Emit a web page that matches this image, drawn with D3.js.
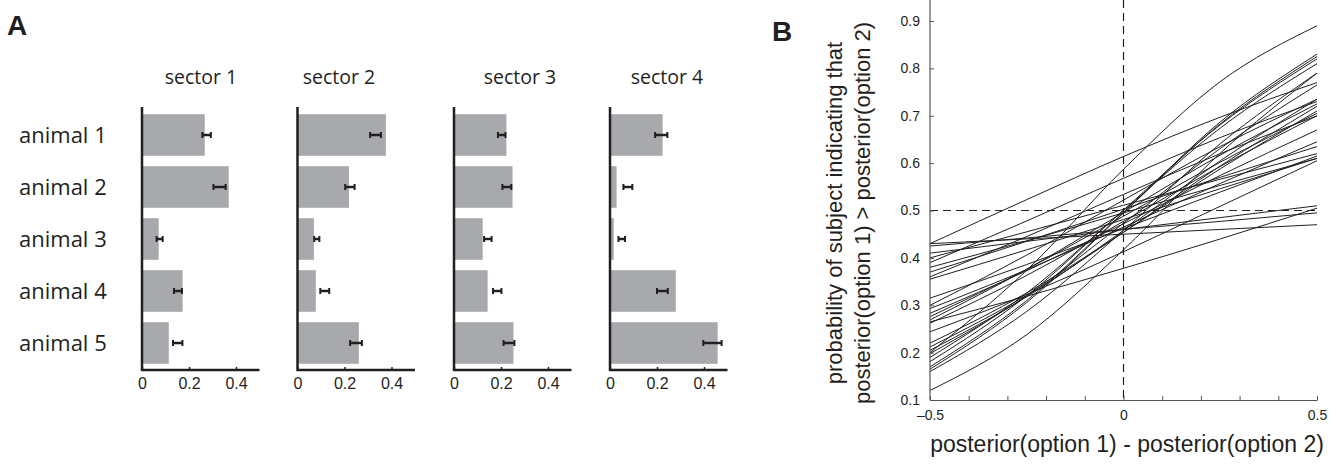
<!DOCTYPE html>
<html>
<head>
<meta charset="utf-8">
<script src="https://cdn.jsdelivr.net/npm/d3@7"></script>
<style>
  body { margin: 0; background: #fff; }
  text { fill: #231f20; }
</style>
</head>
<body>
<script>
var width = 1341;
var height = 468;

// ---- panel A data ----
var animals = ["animal 1", "animal 2", "animal 3", "animal 4", "animal 5"];
var sectors = ["sector 1", "sector 2", "sector 3", "sector 4"];
var barValues = [
  [0.267, 0.369, 0.071, 0.173, 0.114],
  [0.376, 0.219, 0.070, 0.078, 0.261],
  [0.223, 0.249, 0.122, 0.143, 0.253],
  [0.224, 0.028, 0.016, 0.280, 0.458]
];
var errCenter = [
  [0.275, 0.330, 0.075, 0.153, 0.152],
  [0.332, 0.223, 0.082, 0.116, 0.249],
  [0.203, 0.225, 0.144, 0.184, 0.234],
  [0.218, 0.076, 0.050, 0.223, 0.436]
];
var errHalf = [
  [0.018, 0.026, 0.013, 0.017, 0.020],
  [0.023, 0.020, 0.011, 0.019, 0.025],
  [0.016, 0.019, 0.016, 0.018, 0.023],
  [0.026, 0.019, 0.014, 0.023, 0.039]
];
var barTicks = [0, 0.2, 0.4];

// ---- panel B data: each subject's fitted curve, read at x = -0.5, -0.25, 0, 0.25, 0.5 ----
var curveX = [-0.5, -0.25, 0, 0.25, 0.5];
var curves = [
  [0.200, 0.374, 0.587, 0.772, 0.890],
  [0.120, 0.238, 0.417, 0.621, 0.790],
  [0.430, 0.523, 0.614, 0.697, 0.770],
  [0.165, 0.306, 0.495, 0.687, 0.830],
  [0.170, 0.310, 0.496, 0.683, 0.825],
  [0.181, 0.320, 0.501, 0.681, 0.820],
  [0.190, 0.326, 0.500, 0.674, 0.810],
  [0.160, 0.287, 0.458, 0.641, 0.790],
  [0.205, 0.318, 0.458, 0.605, 0.735],
  [0.300, 0.406, 0.522, 0.635, 0.735],
  [0.212, 0.321, 0.454, 0.594, 0.720],
  [0.220, 0.326, 0.454, 0.588, 0.710],
  [0.276, 0.376, 0.488, 0.602, 0.705],
  [0.262, 0.363, 0.477, 0.593, 0.700],
  [0.360, 0.445, 0.534, 0.620, 0.700],
  [0.283, 0.373, 0.472, 0.574, 0.670],
  [0.293, 0.375, 0.465, 0.557, 0.645],
  [0.370, 0.435, 0.503, 0.570, 0.635],
  [0.400, 0.455, 0.511, 0.566, 0.620],
  [0.315, 0.386, 0.462, 0.539, 0.615],
  [0.380, 0.436, 0.495, 0.553, 0.610],
  [0.244, 0.323, 0.413, 0.509, 0.605],
  [0.265, 0.319, 0.378, 0.440, 0.505],
  [0.410, 0.435, 0.460, 0.485, 0.510],
  [0.425, 0.442, 0.460, 0.477, 0.495],
  [0.430, 0.440, 0.450, 0.460, 0.470],
  [0.355, 0.417, 0.481, 0.546, 0.610],
  [0.198, 0.320, 0.473, 0.631, 0.765],
  [0.269, 0.376, 0.496, 0.617, 0.725],
  [0.390, 0.478, 0.568, 0.654, 0.730]
];
var xTicksB = [-0.5, -0.4, -0.3, -0.2, -0.1, 0, 0.1, 0.2, 0.3, 0.4, 0.5];
var xLabelsB = [-0.5, 0, 0.5];
var yTicksB = [0.1, 0.2, 0.3, 0.4, 0.5, 0.6, 0.7, 0.8, 0.9];

var svg = d3.select("body").append("svg")
    .attr("width", width)
    .attr("height", height);

// panel letters
svg.append("text").attr("x", 7).attr("y", 35).text("A")
  .style("font-family", "Liberation Sans, Arial").style("font-weight", "bold").style("font-size", "28px");
svg.append("text").attr("x", 772).attr("y", 41).text("B")
  .style("font-family", "Liberation Sans, Arial").style("font-weight", "bold").style("font-size", "28px");

// ---------------- panel A ----------------
var panelLeft = [142, 297.5, 454, 610];
var titleX = [201, 339, 520, 667];
var axisBottomY = 370;

var yBand = d3.scaleBand().domain(animals).range([109, 369]).paddingInner(0.2).paddingOuter(0.1);

svg.selectAll(".animal")
  .data(animals)
  .enter().append("text")
  .attr("class", "animal")
  .attr("x", 19)
  .attr("y", function(d){ return yBand(d) + yBand.bandwidth()/2 + 8; })
  .text(function(d){ return d; })
  .style("font-family", "Open Sans")
  .style("font-size", "22px");

sectors.forEach(function(s, si){
  var x = d3.scaleLinear().domain([0, 0.5]).range([panelLeft[si], panelLeft[si] + 117.5]);
  var g = svg.append("g");

  g.append("text")
    .attr("x", titleX[si]).attr("y", 84)
    .attr("text-anchor", "middle")
    .text(s)
    .style("font-family", "Open Sans")
    .style("font-size", "19.5px");

  g.selectAll(".bar")
    .data(animals)
    .enter().append("rect")
    .attr("x", x(0))
    .attr("y", function(d){ return yBand(d); })
    .attr("width", function(d, i){ return x(barValues[si][i]) - x(0); })
    .attr("height", yBand.bandwidth())
    .attr("fill", "#a7a9ac");

  var eb = g.selectAll(".err")
    .data(animals)
    .enter().append("g")
    .attr("transform", function(d){ return "translate(0," + (yBand(d) + yBand.bandwidth()/2) + ")"; });
  eb.append("line")
    .attr("x1", function(d, i){ return x(errCenter[si][i] - errHalf[si][i]); })
    .attr("x2", function(d, i){ return x(errCenter[si][i] + errHalf[si][i]); })
    .attr("stroke", "#231f20").attr("stroke-width", 2.5);
  eb.selectAll(".cap")
    .data(function(d, i){ return [errCenter[si][i] - errHalf[si][i], errCenter[si][i] + errHalf[si][i]]; })
    .enter().append("line")
    .attr("x1", function(v){ return x(v); })
    .attr("x2", function(v){ return x(v); })
    .attr("y1", -3).attr("y2", 3)
    .attr("stroke", "#231f20").attr("stroke-width", 2);

  var ax = g.append("g")
    .attr("transform", "translate(0," + axisBottomY + ")")
    .call(d3.axisBottom(x).tickValues(barTicks).tickSizeInner(-3).tickSizeOuter(0).tickPadding(8)
      .tickFormat(function(d){ return d === 0 ? "0" : d3.format(".1f")(d); }));
  ax.select(".domain").remove();
  ax.selectAll(".tick line").attr("stroke", "#231f20").attr("stroke-width", 1.5);
  ax.selectAll(".tick text")
    .style("font-family", "Liberation Sans, Arial")
    .style("font-size", "16px")
    .attr("fill", "#231f20");

  g.append("path")
    .attr("d", "M" + x(0) + ",107V" + axisBottomY + "H" + x(0.5))
    .attr("fill", "none")
    .attr("stroke", "#231f20")
    .attr("stroke-width", 2.5);
});

// ---------------- panel B ----------------
var xB = d3.scaleLinear().domain([-0.5, 0.5]).range([930, 1317]);
var yB = d3.scaleLinear().domain([0.1, 0.9]).range([400, 21]);

var gb = svg.append("g");

// reference lines
gb.append("line")
  .attr("x1", xB(0)).attr("x2", xB(0)).attr("y1", 0).attr("y2", yB(0.1))
  .attr("stroke", "#231f20").attr("stroke-width", 1.2).attr("stroke-dasharray", "8,5");
gb.append("line")
  .attr("x1", xB(-0.5)).attr("x2", xB(0.5)).attr("y1", yB(0.5)).attr("y2", yB(0.5))
  .attr("stroke", "#231f20").attr("stroke-width", 1.2).attr("stroke-dasharray", "8,5");

var line = d3.line()
  .x(function(d, i){ return xB(curveX[i]); })
  .y(function(d){ return yB(d); })
  .curve(d3.curveMonotoneX);

gb.selectAll(".fit")
  .data(curves)
  .enter().append("path")
  .attr("d", line)
  .attr("fill", "none")
  .attr("stroke", "#231f20")
  .attr("stroke-width", 1);

var axB = gb.append("g")
  .attr("transform", "translate(0," + yB(0.1) + ")")
  .call(d3.axisBottom(xB).tickValues(xTicksB).tickSizeInner(-4).tickSizeOuter(0).tickPadding(10)
    .tickFormat(function(d){
      if (xLabelsB.indexOf(d) < 0) return "";
      return d < 0 ? "\u2013" + Math.abs(d) : d3.format("")(d);
    }));
axB.select(".domain").attr("stroke", "#555").attr("stroke-width", 1.2);
axB.selectAll(".tick line").attr("stroke", "#555");
axB.selectAll(".tick text").style("font-family", "Liberation Sans, Arial").style("font-size", "14px").attr("fill", "#231f20");

var ayB = gb.append("g")
  .attr("transform", "translate(" + xB(-0.5) + ",0)")
  .call(d3.axisLeft(yB).tickValues(yTicksB).tickSizeInner(-4).tickSizeOuter(0).tickPadding(10)
    .tickFormat(d3.format(".1f")));
ayB.select(".domain").remove();
ayB.selectAll(".tick line").attr("stroke", "#555");
ayB.selectAll(".tick text").style("font-family", "Liberation Sans, Arial").style("font-size", "14px").attr("fill", "#231f20");
gb.append("line")
  .attr("x1", xB(-0.5)).attr("x2", xB(-0.5)).attr("y1", 0).attr("y2", yB(0.1))
  .attr("stroke", "#555").attr("stroke-width", 1.2);

// axis titles
gb.append("text")
  .attr("x", 1127).attr("y", 452)
  .attr("text-anchor", "middle")
  .text("posterior(option 1) - posterior(option 2)")
  .style("font-family", "Liberation Sans, Arial")
  .style("font-size", "23px");

var yTitle = gb.append("text")
  .attr("transform", "translate(842,213) rotate(-90)")
  .attr("text-anchor", "middle")
  .style("font-family", "Liberation Sans, Arial")
  .style("font-size", "22px");
yTitle.append("tspan").attr("x", 0).attr("y", 0).text("probability of subject indicating that");
yTitle.append("tspan").attr("x", 0).attr("y", 28).text("posterior(option 1) > posterior(option 2)");
</script>
</body>
</html>
